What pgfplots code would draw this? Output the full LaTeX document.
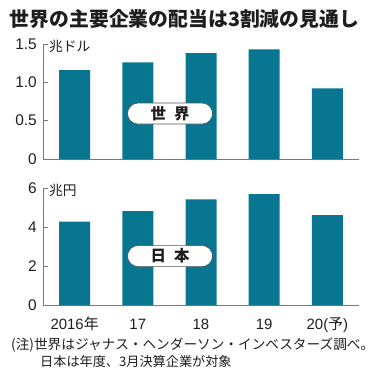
\documentclass[border=0pt]{standalone}
\usepackage{fontspec}
\setmainfont{Noto Sans CJK JP}
\newfontfamily\jp{Noto Sans CJK JP}
\newfontfamily\numf{Liberation Sans}
\usepackage{pgfplots}
\pgfplotsset{compat=1.18}
\definecolor{barteal}{RGB}{8,118,145}
\definecolor{axgray}{RGB}{120,120,120}
\definecolor{txt}{RGB}{30,30,30}
\pgfplotsset{
  common/.style={
    scale only axis, width=316bp,
    xmin=-0.5, xmax=4.5, ymin=0, enlargelimits=false,
    axis x line=bottom, axis y line=left,
    axis line style={draw=axgray, line width=0.8pt, -},
    tick align=inside, major tick length=4.5bp,
    ytick style={draw=axgray, line width=0.8pt},
    xtick style={draw=none},
    xtick={0,1,2,3,4},
    yticklabel style={font=\numf\fontsize{15.5}{17}\selectfont, text=txt, anchor=east, inner sep=0pt, xshift=-6bp},
    xticklabel style={font=\numf\fontsize{15}{17}\selectfont, text=txt, anchor=base, inner sep=0pt, yshift=-19.5bp},
    ybar, bar width=31bp,
    clip=false,
  },
}
\tikzset{
  lbox/.style={draw=axgray!70!black, line width=0.6pt, fill=white, rounded corners=10.5bp,
    minimum width=85bp, minimum height=21bp, inner sep=0pt, text=txt,
    font=\bfseries\fontsize{15.5}{16}\selectfont},
}
\begin{document}
\begin{tikzpicture}
\useasboundingbox (0,0) rectangle (373bp,-373bp);
\node[anchor=center, text=txt, font=\bfseries\fontsize{19.9}{21}\selectfont, inner sep=0pt] at (184.5bp,-18.5bp) {世界の主要企業の配当は3割減の見通し};

\begin{axis}[common, at={(43bp,-159bp)}, anchor=south west, height=115bp,
  ymax=1.5, ytick={0,0.5,1,1.5}, yticklabels={0,0.5,1.0,1.5}, xticklabels={}]
\addplot[fill=barteal, draw=none] coordinates {(0,1.16) (1,1.26) (2,1.38) (3,1.43) (4,0.92)};
\node[anchor=west, inner sep=0pt, text=txt, font=\fontsize{13.8}{15}\selectfont, xshift=6bp, yshift=-2bp] at (axis cs:-0.5,1.5) {兆ドル};
\node[lbox] at (axis cs:1.51,0.593) {世\hspace{8bp}界};
\end{axis}

\begin{axis}[common, at={(43bp,-305bp)}, anchor=south west, height=117bp,
  ymax=6, ytick={0,2,4,6}, yticklabels={0,2,4,6},
  xticklabels={{2016{\jp 年}},17,18,19,{20({\jp 予})}}]
\addplot[fill=barteal, draw=none] coordinates {(0,4.28) (1,4.82) (2,5.42) (3,5.68) (4,4.61)};
\node[anchor=west, inner sep=0pt, text=txt, font=\fontsize{13.8}{15}\selectfont, xshift=6bp, yshift=-2bp] at (axis cs:-0.5,6) {兆円};
\node[lbox] at (axis cs:1.51,2.51) {日\hspace{8bp}本};
\end{axis}

\node[anchor=west, inner sep=0pt, text=txt, font=\fontsize{13.7}{15}\selectfont] at (11bp,-345bp) {(注)世界はジャナス・ヘンダーソン・インベスターズ調べ。};
\node[anchor=west, inner sep=0pt, text=txt, font=\fontsize{13.2}{15}\selectfont] at (40bp,-361bp) {日本は年度、3月決算企業が対象};
\end{tikzpicture}
\end{document}
